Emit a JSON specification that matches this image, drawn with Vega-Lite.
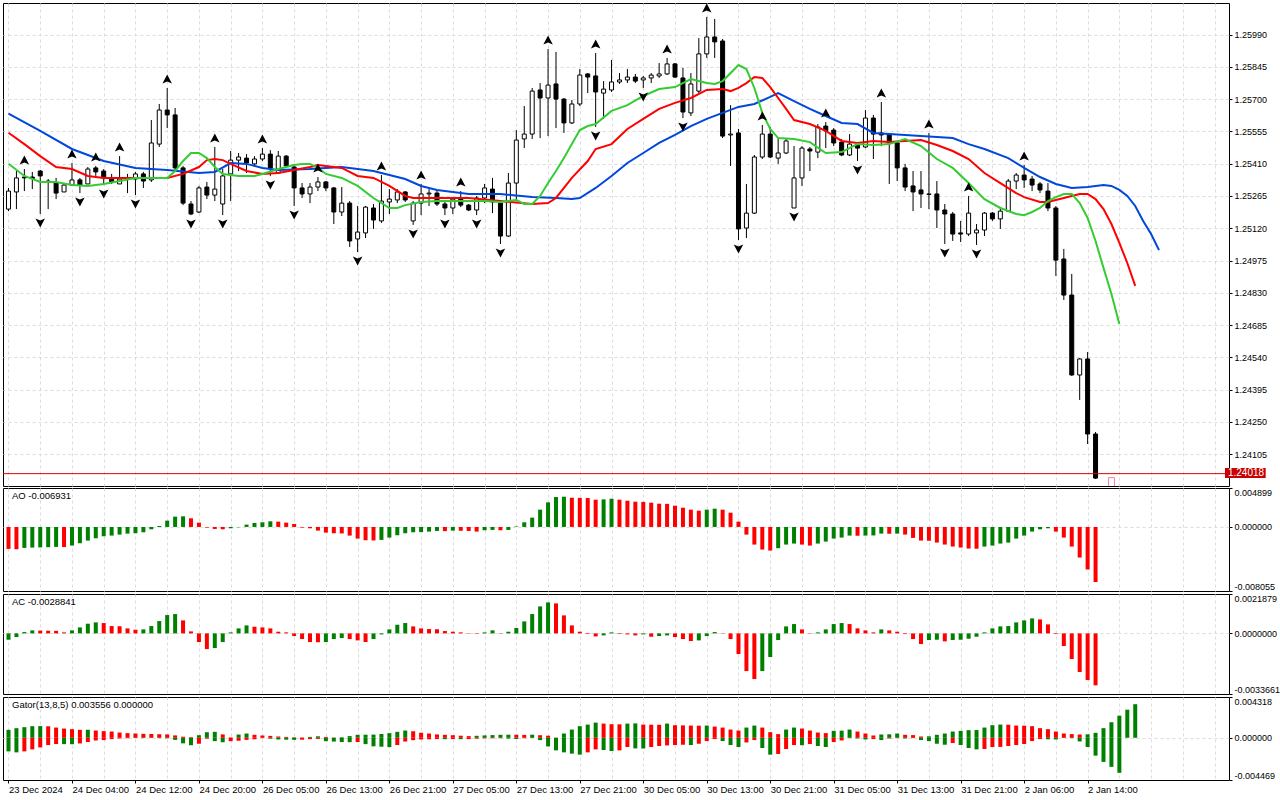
{
  "$schema": "https://vega.github.io/schema/vega-lite/v6.json",
  "background": "white",
  "padding": {"left": 2, "top": 2, "right": 0, "bottom": 0},
  "spacing": 2,
  "bounds": "flush",
  "resolve": {"scale": {"color": "independent"}},
  "config": {
    "locale": {"number": {"decimal": ".", "thousands": ",", "grouping": [3], "currency": ["", ""], "minus": "-"}},
    "view": {"stroke": "#000000", "strokeWidth": 1},
    "axis": {"labelFont": "Liberation Sans", "labelFontSize": 9, "labelColor": "#000000", "tickColor": "#000000", "tickWidth": 1, "gridColor": "#dcdcdc", "gridDash": [3, 3], "gridWidth": 1, "domain": false, "title": null, "labelOverlap": false, "labelSeparation": 0}
  },
  "datasets": {
    "bars": [
      {"i":0,"o":1.25206,"h":1.25301,"l":1.25197,"c":1.25287,"ao":-0.002759,"aoc":"r","ac":-0.000352,"acc":"g"},
      {"i":1,"o":1.25283,"h":1.25377,"l":1.25206,"c":1.25346,"ao":-0.002801,"aoc":"r","ac":-0.000204,"acc":"g"},
      {"i":2,"o":1.25350,"h":1.25386,"l":1.25287,"c":1.25346,"ao":-0.002633,"aoc":"g","ac":0.000074,"acc":"g"},
      {"i":3,"o":1.25350,"h":1.25373,"l":1.25296,"c":1.25343,"ao":-0.002592,"aoc":"g","ac":0.000167,"acc":"g"},
      {"i":4,"o":1.25377,"h":1.25382,"l":1.25184,"c":1.25355,"ao":-0.002571,"aoc":"g","ac":0.000157,"acc":"r"},
      {"i":5,"o":1.25332,"h":1.25341,"l":1.25206,"c":1.25328,"ao":-0.002550,"aoc":"g","ac":0.000148,"acc":"r"},
      {"i":6,"o":1.25323,"h":1.25346,"l":1.25251,"c":1.25278,"ao":-0.002508,"aoc":"g","ac":0.000139,"acc":"r"},
      {"i":7,"o":1.25283,"h":1.25319,"l":1.25283,"c":1.25314,"ao":-0.002529,"aoc":"r","ac":0.000056,"acc":"r"},
      {"i":8,"o":1.25314,"h":1.25413,"l":1.25310,"c":1.25337,"ao":-0.002341,"aoc":"g","ac":0.000167,"acc":"g"},
      {"i":9,"o":1.25337,"h":1.25346,"l":1.25278,"c":1.25314,"ao":-0.002048,"aoc":"g","ac":0.000333,"acc":"g"},
      {"i":10,"o":1.25319,"h":1.25395,"l":1.25319,"c":1.25386,"ao":-0.001714,"aoc":"g","ac":0.000537,"acc":"g"},
      {"i":11,"o":1.25391,"h":1.25400,"l":1.25355,"c":1.25373,"ao":-0.001421,"aoc":"g","ac":0.000611,"acc":"g"},
      {"i":12,"o":1.25377,"h":1.25386,"l":1.25314,"c":1.25346,"ao":-0.001170,"aoc":"g","ac":0.000574,"acc":"r"},
      {"i":13,"o":1.25346,"h":1.25364,"l":1.25319,"c":1.25328,"ao":-0.001087,"aoc":"g","ac":0.000407,"acc":"r"},
      {"i":14,"o":1.25319,"h":1.25444,"l":1.25319,"c":1.25341,"ao":-0.000961,"aoc":"g","ac":0.000398,"acc":"r"},
      {"i":15,"o":1.25341,"h":1.25364,"l":1.25278,"c":1.25346,"ao":-0.000836,"aoc":"g","ac":0.000278,"acc":"r"},
      {"i":16,"o":1.25341,"h":1.25373,"l":1.25269,"c":1.25364,"ao":-0.000794,"aoc":"g","ac":0.000204,"acc":"r"},
      {"i":17,"o":1.25364,"h":1.25373,"l":1.25301,"c":1.25332,"ao":-0.000669,"aoc":"g","ac":0.000222,"acc":"g"},
      {"i":18,"o":1.25337,"h":1.25606,"l":1.25328,"c":1.25503,"ao":-0.000293,"aoc":"g","ac":0.000407,"acc":"g"},
      {"i":19,"o":1.25498,"h":1.25678,"l":1.25485,"c":1.25651,"ao":0.000125,"aoc":"g","ac":0.000685,"acc":"g"},
      {"i":20,"o":1.25651,"h":1.25750,"l":1.25570,"c":1.25629,"ao":0.000794,"aoc":"g","ac":0.001018,"acc":"g"},
      {"i":21,"o":1.25629,"h":1.25660,"l":1.25377,"c":1.25391,"ao":0.001296,"aoc":"g","ac":0.001074,"acc":"g"},
      {"i":22,"o":1.25391,"h":1.25400,"l":1.25224,"c":1.25233,"ao":0.001338,"aoc":"g","ac":0.000722,"acc":"r"},
      {"i":23,"o":1.25229,"h":1.25242,"l":1.25179,"c":1.25184,"ao":0.001087,"aoc":"r","ac":0.000111,"acc":"r"},
      {"i":24,"o":1.25193,"h":1.25310,"l":1.25188,"c":1.25301,"ao":0.000543,"aoc":"r","ac":-0.000481,"acc":"r"},
      {"i":25,"o":1.25305,"h":1.25328,"l":1.25251,"c":1.25269,"ao":-0.000084,"aoc":"r","ac":-0.000870,"acc":"r"},
      {"i":26,"o":1.25269,"h":1.25485,"l":1.25242,"c":1.25296,"ao":-0.000251,"aoc":"r","ac":-0.000814,"acc":"g"},
      {"i":27,"o":1.25229,"h":1.25386,"l":1.25179,"c":1.25355,"ao":-0.000293,"aoc":"r","ac":-0.000481,"acc":"g"},
      {"i":28,"o":1.25364,"h":1.25467,"l":1.25242,"c":1.25426,"ao":-0.000167,"aoc":"g","ac":0.000056,"acc":"g"},
      {"i":29,"o":1.25426,"h":1.25458,"l":1.25377,"c":1.25440,"ao":-0.000042,"aoc":"g","ac":0.000278,"acc":"g"},
      {"i":30,"o":1.25435,"h":1.25453,"l":1.25368,"c":1.25413,"ao":0.000293,"aoc":"g","ac":0.000444,"acc":"g"},
      {"i":31,"o":1.25409,"h":1.25444,"l":1.25395,"c":1.25431,"ao":0.000502,"aoc":"g","ac":0.000370,"acc":"r"},
      {"i":32,"o":1.25431,"h":1.25480,"l":1.25422,"c":1.25453,"ao":0.000585,"aoc":"g","ac":0.000333,"acc":"r"},
      {"i":33,"o":1.25453,"h":1.25471,"l":1.25355,"c":1.25391,"ao":0.000711,"aoc":"g","ac":0.000278,"acc":"r"},
      {"i":34,"o":1.25368,"h":1.25467,"l":1.25364,"c":1.25444,"ao":0.000669,"aoc":"r","ac":0.000093,"acc":"r"},
      {"i":35,"o":1.25444,"h":1.25449,"l":1.25391,"c":1.25400,"ao":0.000543,"aoc":"r","ac":0.000056,"acc":"r"},
      {"i":36,"o":1.25395,"h":1.25409,"l":1.25220,"c":1.25301,"ao":0.000376,"aoc":"r","ac":-0.000148,"acc":"r"},
      {"i":37,"o":1.25301,"h":1.25323,"l":1.25256,"c":1.25274,"ao":-0.000084,"aoc":"r","ac":-0.000315,"acc":"r"},
      {"i":38,"o":1.25274,"h":1.25323,"l":1.25233,"c":1.25305,"ao":-0.000167,"aoc":"r","ac":-0.000481,"acc":"r"},
      {"i":39,"o":1.25305,"h":1.25350,"l":1.25287,"c":1.25328,"ao":-0.000460,"aoc":"r","ac":-0.000491,"acc":"r"},
      {"i":40,"o":1.25328,"h":1.25332,"l":1.25287,"c":1.25301,"ao":-0.000711,"aoc":"r","ac":-0.000481,"acc":"g"},
      {"i":41,"o":1.25301,"h":1.25305,"l":1.25139,"c":1.25193,"ao":-0.000794,"aoc":"r","ac":-0.000315,"acc":"g"},
      {"i":42,"o":1.25193,"h":1.25305,"l":1.25175,"c":1.25233,"ao":-0.000815,"aoc":"r","ac":-0.000259,"acc":"g"},
      {"i":43,"o":1.25233,"h":1.25242,"l":1.25036,"c":1.25063,"ao":-0.001087,"aoc":"r","ac":-0.000315,"acc":"r"},
      {"i":44,"o":1.25072,"h":1.25220,"l":1.25013,"c":1.25103,"ao":-0.001463,"aoc":"r","ac":-0.000389,"acc":"r"},
      {"i":45,"o":1.25099,"h":1.25220,"l":1.25076,"c":1.25215,"ao":-0.001672,"aoc":"r","ac":-0.000481,"acc":"r"},
      {"i":46,"o":1.25211,"h":1.25229,"l":1.25117,"c":1.25157,"ao":-0.001693,"aoc":"r","ac":-0.000315,"acc":"g"},
      {"i":47,"o":1.25153,"h":1.25359,"l":1.25144,"c":1.25242,"ao":-0.001630,"aoc":"g","ac":-0.000056,"acc":"g"},
      {"i":48,"o":1.25238,"h":1.25296,"l":1.25184,"c":1.25251,"ao":-0.001338,"aoc":"g","ac":0.000222,"acc":"g"},
      {"i":49,"o":1.25247,"h":1.25296,"l":1.25233,"c":1.25283,"ao":-0.001045,"aoc":"g","ac":0.000481,"acc":"g"},
      {"i":50,"o":1.25283,"h":1.25287,"l":1.25238,"c":1.25247,"ao":-0.000794,"aoc":"g","ac":0.000574,"acc":"g"},
      {"i":51,"o":1.25153,"h":1.25242,"l":1.25135,"c":1.25233,"ao":-0.000669,"aoc":"g","ac":0.000389,"acc":"r"},
      {"i":52,"o":1.25233,"h":1.25319,"l":1.25179,"c":1.25274,"ao":-0.000648,"aoc":"g","ac":0.000278,"acc":"r"},
      {"i":53,"o":1.25274,"h":1.25296,"l":1.25220,"c":1.25278,"ao":-0.000585,"aoc":"g","ac":0.000241,"acc":"r"},
      {"i":54,"o":1.25278,"h":1.25292,"l":1.25220,"c":1.25229,"ao":-0.000502,"aoc":"g","ac":0.000231,"acc":"r"},
      {"i":55,"o":1.25229,"h":1.25242,"l":1.25179,"c":1.25211,"ao":-0.000523,"aoc":"r","ac":0.000130,"acc":"r"},
      {"i":56,"o":1.25211,"h":1.25260,"l":1.25184,"c":1.25251,"ao":-0.000460,"aoc":"g","ac":0.000093,"acc":"r"},
      {"i":57,"o":1.25256,"h":1.25287,"l":1.25215,"c":1.25224,"ao":-0.000481,"aoc":"r","ac":0.000056,"acc":"r"},
      {"i":58,"o":1.25224,"h":1.25229,"l":1.25197,"c":1.25202,"ao":-0.000502,"aoc":"r","ac":-0.000019,"acc":"r"},
      {"i":59,"o":1.25202,"h":1.25265,"l":1.25179,"c":1.25256,"ao":-0.000585,"aoc":"r","ac":-0.000028,"acc":"r"},
      {"i":60,"o":1.25256,"h":1.25319,"l":1.25233,"c":1.25301,"ao":-0.000418,"aoc":"g","ac":0.000056,"acc":"g"},
      {"i":61,"o":1.25296,"h":1.25346,"l":1.25188,"c":1.25238,"ao":-0.000376,"aoc":"g","ac":0.000167,"acc":"g"},
      {"i":62,"o":1.25233,"h":1.25242,"l":1.25049,"c":1.25085,"ao":-0.000418,"aoc":"r","ac":0.000019,"acc":"r"},
      {"i":63,"o":1.25085,"h":1.25368,"l":1.25081,"c":1.25323,"ao":-0.000376,"aoc":"g","ac":0.000093,"acc":"g"},
      {"i":64,"o":1.25323,"h":1.25561,"l":1.25242,"c":1.25516,"ao":0.000042,"aoc":"g","ac":0.000296,"acc":"g"},
      {"i":65,"o":1.25521,"h":1.25669,"l":1.25480,"c":1.25543,"ao":0.000585,"aoc":"g","ac":0.000666,"acc":"g"},
      {"i":66,"o":1.25543,"h":1.25750,"l":1.25521,"c":1.25736,"ao":0.001170,"aoc":"g","ac":0.001074,"acc":"g"},
      {"i":67,"o":1.25741,"h":1.25772,"l":1.25525,"c":1.25705,"ao":0.002174,"aoc":"g","ac":0.001499,"acc":"g"},
      {"i":68,"o":1.25705,"h":1.25925,"l":1.25534,"c":1.25763,"ao":0.003093,"aoc":"g","ac":0.001721,"acc":"g"},
      {"i":69,"o":1.25768,"h":1.25912,"l":1.25570,"c":1.25700,"ao":0.003762,"aoc":"g","ac":0.001666,"acc":"r"},
      {"i":70,"o":1.25700,"h":1.25705,"l":1.25548,"c":1.25593,"ao":0.003804,"aoc":"g","ac":0.001000,"acc":"r"},
      {"i":71,"o":1.25593,"h":1.25696,"l":1.25588,"c":1.25678,"ao":0.003678,"aoc":"r","ac":0.000444,"acc":"r"},
      {"i":72,"o":1.25678,"h":1.25835,"l":1.25669,"c":1.25808,"ao":0.003658,"aoc":"r","ac":0.000093,"acc":"r"},
      {"i":73,"o":1.25813,"h":1.25817,"l":1.25727,"c":1.25799,"ao":0.003637,"aoc":"r","ac":-0.000037,"acc":"r"},
      {"i":74,"o":1.25804,"h":1.25907,"l":1.25575,"c":1.25732,"ao":0.003428,"aoc":"r","ac":-0.000167,"acc":"r"},
      {"i":75,"o":1.25727,"h":1.25781,"l":1.25611,"c":1.25745,"ao":0.003469,"aoc":"g","ac":-0.000111,"acc":"g"},
      {"i":76,"o":1.25741,"h":1.25876,"l":1.25732,"c":1.25777,"ao":0.003553,"aoc":"g","ac":0.000056,"acc":"g"},
      {"i":77,"o":1.25777,"h":1.25817,"l":1.25768,"c":1.25786,"ao":0.003428,"aoc":"r","ac":-0.000037,"acc":"r"},
      {"i":78,"o":1.25786,"h":1.25835,"l":1.25772,"c":1.25799,"ao":0.003302,"aoc":"r","ac":-0.000056,"acc":"r"},
      {"i":79,"o":1.25799,"h":1.25813,"l":1.25772,"c":1.25781,"ao":0.003177,"aoc":"r","ac":-0.000111,"acc":"r"},
      {"i":80,"o":1.25786,"h":1.25804,"l":1.25750,"c":1.25795,"ao":0.003156,"aoc":"r","ac":-0.000056,"acc":"g"},
      {"i":81,"o":1.25795,"h":1.25817,"l":1.25772,"c":1.25808,"ao":0.003051,"aoc":"r","ac":-0.000185,"acc":"r"},
      {"i":82,"o":1.25804,"h":1.25862,"l":1.25795,"c":1.25813,"ao":0.002926,"aoc":"r","ac":-0.000148,"acc":"g"},
      {"i":83,"o":1.25813,"h":1.25885,"l":1.25808,"c":1.25858,"ao":0.002905,"aoc":"r","ac":-0.000111,"acc":"g"},
      {"i":84,"o":1.25858,"h":1.25862,"l":1.25795,"c":1.25799,"ao":0.002675,"aoc":"r","ac":-0.000204,"acc":"r"},
      {"i":85,"o":1.25795,"h":1.25840,"l":1.25615,"c":1.25642,"ao":0.002424,"aoc":"r","ac":-0.000315,"acc":"r"},
      {"i":86,"o":1.25638,"h":1.25817,"l":1.25624,"c":1.25768,"ao":0.002174,"aoc":"r","ac":-0.000426,"acc":"r"},
      {"i":87,"o":1.25736,"h":1.25974,"l":1.25727,"c":1.25903,"ao":0.002048,"aoc":"r","ac":-0.000389,"acc":"g"},
      {"i":88,"o":1.25903,"h":1.26069,"l":1.25885,"c":1.25979,"ao":0.002174,"aoc":"g","ac":-0.000148,"acc":"g"},
      {"i":89,"o":1.25979,"h":1.26060,"l":1.25885,"c":1.25957,"ao":0.002299,"aoc":"g","ac":0.000074,"acc":"g"},
      {"i":90,"o":1.25961,"h":1.25970,"l":1.25525,"c":1.25534,"ao":0.002174,"aoc":"r","ac":-0.000019,"acc":"r"},
      {"i":91,"o":1.25539,"h":1.25673,"l":1.25400,"c":1.25543,"ao":0.001797,"aoc":"r","ac":-0.000315,"acc":"r"},
      {"i":92,"o":1.25548,"h":1.25566,"l":1.25067,"c":1.25117,"ao":0.000669,"aoc":"r","ac":-0.001148,"acc":"r"},
      {"i":93,"o":1.25121,"h":1.25319,"l":1.25076,"c":1.25188,"ao":-0.000961,"aoc":"r","ac":-0.002092,"acc":"r"},
      {"i":94,"o":1.25188,"h":1.25449,"l":1.25184,"c":1.25440,"ao":-0.002215,"aoc":"r","ac":-0.002536,"acc":"r"},
      {"i":95,"o":1.25440,"h":1.25584,"l":1.25431,"c":1.25543,"ao":-0.002842,"aoc":"r","ac":-0.002092,"acc":"g"},
      {"i":96,"o":1.25543,"h":1.25575,"l":1.25435,"c":1.25440,"ao":-0.002968,"aoc":"r","ac":-0.001314,"acc":"g"},
      {"i":97,"o":1.25435,"h":1.25525,"l":1.25409,"c":1.25458,"ao":-0.002675,"aoc":"g","ac":-0.000370,"acc":"g"},
      {"i":98,"o":1.25458,"h":1.25521,"l":1.25453,"c":1.25512,"ao":-0.002215,"aoc":"g","ac":0.000389,"acc":"g"},
      {"i":99,"o":1.25211,"h":1.25489,"l":1.25211,"c":1.25346,"ao":-0.002090,"aoc":"g","ac":0.000518,"acc":"g"},
      {"i":100,"o":1.25346,"h":1.25489,"l":1.25310,"c":1.25480,"ao":-0.002215,"aoc":"r","ac":0.000222,"acc":"r"},
      {"i":101,"o":1.25476,"h":1.25485,"l":1.25377,"c":1.25467,"ao":-0.002341,"aoc":"r","ac":0.000019,"acc":"r"},
      {"i":102,"o":1.25462,"h":1.25588,"l":1.25435,"c":1.25575,"ao":-0.002090,"aoc":"g","ac":0.000056,"acc":"g"},
      {"i":103,"o":1.25579,"h":1.25597,"l":1.25480,"c":1.25557,"ao":-0.001839,"aoc":"g","ac":0.000222,"acc":"g"},
      {"i":104,"o":1.25561,"h":1.25570,"l":1.25489,"c":1.25503,"ao":-0.001463,"aoc":"g","ac":0.000518,"acc":"g"},
      {"i":105,"o":1.25507,"h":1.25521,"l":1.25444,"c":1.25449,"ao":-0.001338,"aoc":"g","ac":0.000574,"acc":"g"},
      {"i":106,"o":1.25449,"h":1.25543,"l":1.25444,"c":1.25498,"ao":-0.001087,"aoc":"g","ac":0.000518,"acc":"r"},
      {"i":107,"o":1.25494,"h":1.25503,"l":1.25422,"c":1.25480,"ao":-0.001108,"aoc":"r","ac":0.000278,"acc":"r"},
      {"i":108,"o":1.25485,"h":1.25651,"l":1.25480,"c":1.25615,"ao":-0.001087,"aoc":"g","ac":0.000167,"acc":"r"},
      {"i":109,"o":1.25615,"h":1.25629,"l":1.25431,"c":1.25543,"ao":-0.001066,"aoc":"g","ac":0.000056,"acc":"r"},
      {"i":110,"o":1.25548,"h":1.25687,"l":1.25489,"c":1.25539,"ao":-0.000836,"aoc":"g","ac":0.000222,"acc":"g"},
      {"i":111,"o":1.25543,"h":1.25548,"l":1.25319,"c":1.25503,"ao":-0.000857,"aoc":"r","ac":0.000167,"acc":"r"},
      {"i":112,"o":1.25503,"h":1.25512,"l":1.25332,"c":1.25391,"ao":-0.000836,"aoc":"g","ac":0.000093,"acc":"r"},
      {"i":113,"o":1.25391,"h":1.25409,"l":1.25287,"c":1.25305,"ao":-0.000961,"aoc":"r","ac":-0.000037,"acc":"r"},
      {"i":114,"o":1.25310,"h":1.25377,"l":1.25197,"c":1.25283,"ao":-0.001379,"aoc":"r","ac":-0.000315,"acc":"r"},
      {"i":115,"o":1.25292,"h":1.25377,"l":1.25211,"c":1.25274,"ao":-0.001714,"aoc":"r","ac":-0.000592,"acc":"r"},
      {"i":116,"o":1.25274,"h":1.25548,"l":1.25206,"c":1.25272,"ao":-0.001735,"aoc":"r","ac":-0.000370,"acc":"g"},
      {"i":117,"o":1.25274,"h":1.25332,"l":1.25121,"c":1.25202,"ao":-0.001965,"aoc":"r","ac":-0.000352,"acc":"g"},
      {"i":118,"o":1.25202,"h":1.25229,"l":1.25049,"c":1.25184,"ao":-0.002215,"aoc":"r","ac":-0.000444,"acc":"r"},
      {"i":119,"o":1.25184,"h":1.25193,"l":1.25063,"c":1.25094,"ao":-0.002466,"aoc":"r","ac":-0.000370,"acc":"g"},
      {"i":120,"o":1.25099,"h":1.25153,"l":1.25058,"c":1.25094,"ao":-0.002592,"aoc":"r","ac":-0.000352,"acc":"g"},
      {"i":121,"o":1.25094,"h":1.25265,"l":1.25085,"c":1.25188,"ao":-0.002717,"aoc":"r","ac":-0.000296,"acc":"g"},
      {"i":122,"o":1.25099,"h":1.25139,"l":1.25045,"c":1.25112,"ao":-0.002738,"aoc":"r","ac":-0.000185,"acc":"g"},
      {"i":123,"o":1.25112,"h":1.25193,"l":1.25085,"c":1.25188,"ao":-0.002466,"aoc":"g","ac":0.000056,"acc":"g"},
      {"i":124,"o":1.25188,"h":1.25193,"l":1.25153,"c":1.25162,"ao":-0.002341,"aoc":"g","ac":0.000278,"acc":"g"},
      {"i":125,"o":1.25162,"h":1.25215,"l":1.25117,"c":1.25197,"ao":-0.002090,"aoc":"g","ac":0.000389,"acc":"g"},
      {"i":126,"o":1.25197,"h":1.25341,"l":1.25193,"c":1.25332,"ao":-0.001965,"aoc":"g","ac":0.000407,"acc":"g"},
      {"i":127,"o":1.25332,"h":1.25368,"l":1.25296,"c":1.25359,"ao":-0.001463,"aoc":"g","ac":0.000611,"acc":"g"},
      {"i":128,"o":1.25359,"h":1.25404,"l":1.25301,"c":1.25337,"ao":-0.001087,"aoc":"g","ac":0.000722,"acc":"g"},
      {"i":129,"o":1.25341,"h":1.25355,"l":1.25287,"c":1.25314,"ao":-0.000585,"aoc":"g","ac":0.000833,"acc":"g"},
      {"i":130,"o":1.25319,"h":1.25328,"l":1.25278,"c":1.25292,"ao":-0.000293,"aoc":"g","ac":0.000777,"acc":"r"},
      {"i":131,"o":1.25287,"h":1.25323,"l":1.25197,"c":1.25211,"ao":-0.000167,"aoc":"g","ac":0.000500,"acc":"r"},
      {"i":132,"o":1.25211,"h":1.25220,"l":1.24906,"c":1.24977,"ao":-0.000585,"aoc":"r","ac":-0.000037,"acc":"r"},
      {"i":133,"o":1.24982,"h":1.25027,"l":1.24798,"c":1.24820,"ao":-0.001338,"aoc":"r","ac":-0.000703,"acc":"r"},
      {"i":134,"o":1.24820,"h":1.24915,"l":1.24457,"c":1.24461,"ao":-0.002466,"aoc":"r","ac":-0.001425,"acc":"r"},
      {"i":135,"o":1.24461,"h":1.24537,"l":1.24349,"c":1.24533,"ao":-0.003846,"aoc":"r","ac":-0.002147,"acc":"r"},
      {"i":136,"o":1.24533,"h":1.24564,"l":1.24151,"c":1.24196,"ao":-0.005350,"aoc":"r","ac":-0.002591,"acc":"r"},
      {"i":137,"o":1.24196,"h":1.24205,"l":1.23994,"c":1.23998,"ao":-0.006931,"aoc":"r","ac":-0.002884,"acc":"r"}
    ],
    "lines": [
      {"s":"jaw","i":0,"v":1.25635},{"s":"jaw","i":4,"v":1.25557},{"s":"jaw","i":8,"v":1.25476},{"s":"jaw","i":12,"v":1.25422},{"s":"jaw","i":16,"v":1.25391},{"s":"jaw","i":20,"v":1.25382},{"s":"jaw","i":24,"v":1.25368},{"s":"jaw","i":26,"v":1.25373},{"s":"jaw","i":28,"v":1.25413},{"s":"jaw","i":30,"v":1.25409},{"s":"jaw","i":32,"v":1.25391},{"s":"jaw","i":34,"v":1.25382},{"s":"jaw","i":38,"v":1.25386},{"s":"jaw","i":42,"v":1.25395},{"s":"jaw","i":46,"v":1.25377},{"s":"jaw","i":50,"v":1.25341},{"s":"jaw","i":52,"v":1.25310},{"s":"jaw","i":54,"v":1.25292},{"s":"jaw","i":58,"v":1.25274},{"s":"jaw","i":62,"v":1.25274},{"s":"jaw","i":66,"v":1.25260},{"s":"jaw","i":69,"v":1.25256},{"s":"jaw","i":71,"v":1.25251},{"s":"jaw","i":72,"v":1.25256},{"s":"jaw","i":74,"v":1.25301},{"s":"jaw","i":76,"v":1.25355},{"s":"jaw","i":78,"v":1.25413},{"s":"jaw","i":80,"v":1.25458},{"s":"jaw","i":82,"v":1.25503},{"s":"jaw","i":84,"v":1.25539},{"s":"jaw","i":86,"v":1.25579},{"s":"jaw","i":88,"v":1.25611},{"s":"jaw","i":90,"v":1.25638},{"s":"jaw","i":92,"v":1.25665},{"s":"jaw","i":94,"v":1.25678},{"s":"jaw","i":96,"v":1.25710},{"s":"jaw","i":97,"v":1.25727},{"s":"jaw","i":99,"v":1.25691},{"s":"jaw","i":101,"v":1.25656},{"s":"jaw","i":103,"v":1.25624},{"s":"jaw","i":105,"v":1.25593},{"s":"jaw","i":107,"v":1.25588},{"s":"jaw","i":109,"v":1.25548},{"s":"jaw","i":111,"v":1.25543},{"s":"jaw","i":115,"v":1.25534},{"s":"jaw","i":119,"v":1.25525},{"s":"jaw","i":121,"v":1.25498},{"s":"jaw","i":123,"v":1.25476},{"s":"jaw","i":126,"v":1.25435},{"s":"jaw","i":128,"v":1.25391},{"s":"jaw","i":130,"v":1.25350},{"s":"jaw","i":132,"v":1.25319},{"s":"jaw","i":134,"v":1.25301},{"s":"jaw","i":136,"v":1.25305},{"s":"jaw","i":138,"v":1.25314},{"s":"jaw","i":139,"v":1.25310},{"s":"jaw","i":140,"v":1.25292},{"s":"jaw","i":141,"v":1.25265},{"s":"jaw","i":142,"v":1.25220},{"s":"jaw","i":143,"v":1.25153},{"s":"jaw","i":144,"v":1.25094},{"s":"jaw","i":145,"v":1.25022},
      {"s":"teeth","i":0,"v":1.25549},{"s":"teeth","i":2,"v":1.25498},{"s":"teeth","i":4,"v":1.25444},{"s":"teeth","i":6,"v":1.25395},{"s":"teeth","i":8,"v":1.25386},{"s":"teeth","i":10,"v":1.25355},{"s":"teeth","i":12,"v":1.25346},{"s":"teeth","i":16,"v":1.25346},{"s":"teeth","i":20,"v":1.25346},{"s":"teeth","i":22,"v":1.25364},{"s":"teeth","i":24,"v":1.25395},{"s":"teeth","i":25,"v":1.25426},{"s":"teeth","i":26,"v":1.25431},{"s":"teeth","i":27,"v":1.25426},{"s":"teeth","i":28,"v":1.25409},{"s":"teeth","i":30,"v":1.25377},{"s":"teeth","i":32,"v":1.25364},{"s":"teeth","i":34,"v":1.25368},{"s":"teeth","i":36,"v":1.25382},{"s":"teeth","i":38,"v":1.25395},{"s":"teeth","i":39,"v":1.25404},{"s":"teeth","i":42,"v":1.25391},{"s":"teeth","i":44,"v":1.25355},{"s":"teeth","i":46,"v":1.25346},{"s":"teeth","i":48,"v":1.25310},{"s":"teeth","i":50,"v":1.25265},{"s":"teeth","i":51,"v":1.25256},{"s":"teeth","i":54,"v":1.25256},{"s":"teeth","i":58,"v":1.25256},{"s":"teeth","i":62,"v":1.25242},{"s":"teeth","i":66,"v":1.25229},{"s":"teeth","i":68,"v":1.25233},{"s":"teeth","i":69,"v":1.25256},{"s":"teeth","i":71,"v":1.25346},{"s":"teeth","i":73,"v":1.25422},{"s":"teeth","i":74,"v":1.25476},{"s":"teeth","i":76,"v":1.25498},{"s":"teeth","i":78,"v":1.25566},{"s":"teeth","i":80,"v":1.25611},{"s":"teeth","i":82,"v":1.25656},{"s":"teeth","i":84,"v":1.25683},{"s":"teeth","i":86,"v":1.25705},{"s":"teeth","i":88,"v":1.25741},{"s":"teeth","i":90,"v":1.25745},{"s":"teeth","i":91,"v":1.25736},{"s":"teeth","i":92,"v":1.25750},{"s":"teeth","i":93,"v":1.25772},{"s":"teeth","i":94,"v":1.25799},{"s":"teeth","i":95,"v":1.25795},{"s":"teeth","i":96,"v":1.25754},{"s":"teeth","i":97,"v":1.25705},{"s":"teeth","i":98,"v":1.25656},{"s":"teeth","i":99,"v":1.25606},{"s":"teeth","i":101,"v":1.25588},{"s":"teeth","i":103,"v":1.25557},{"s":"teeth","i":105,"v":1.25512},{"s":"teeth","i":107,"v":1.25503},{"s":"teeth","i":109,"v":1.25512},{"s":"teeth","i":111,"v":1.25507},{"s":"teeth","i":113,"v":1.25512},{"s":"teeth","i":115,"v":1.25516},{"s":"teeth","i":117,"v":1.25494},{"s":"teeth","i":119,"v":1.25467},{"s":"teeth","i":121,"v":1.25431},{"s":"teeth","i":123,"v":1.25368},{"s":"teeth","i":125,"v":1.25323},{"s":"teeth","i":127,"v":1.25278},{"s":"teeth","i":128,"v":1.25260},{"s":"teeth","i":130,"v":1.25238},{"s":"teeth","i":131,"v":1.25238},{"s":"teeth","i":133,"v":1.25256},{"s":"teeth","i":135,"v":1.25274},{"s":"teeth","i":136,"v":1.25274},{"s":"teeth","i":137,"v":1.25251},{"s":"teeth","i":138,"v":1.25206},{"s":"teeth","i":139,"v":1.25139},{"s":"teeth","i":140,"v":1.25054},{"s":"teeth","i":141,"v":1.24964},{"s":"teeth","i":142,"v":1.24861},
      {"s":"lips","i":0,"v":1.25410},{"s":"lips","i":2,"v":1.25355},{"s":"lips","i":4,"v":1.25328},{"s":"lips","i":6,"v":1.25328},{"s":"lips","i":8,"v":1.25314},{"s":"lips","i":10,"v":1.25310},{"s":"lips","i":12,"v":1.25319},{"s":"lips","i":14,"v":1.25332},{"s":"lips","i":16,"v":1.25346},{"s":"lips","i":20,"v":1.25346},{"s":"lips","i":21,"v":1.25377},{"s":"lips","i":22,"v":1.25422},{"s":"lips","i":23,"v":1.25458},{"s":"lips","i":24,"v":1.25458},{"s":"lips","i":25,"v":1.25435},{"s":"lips","i":26,"v":1.25395},{"s":"lips","i":27,"v":1.25364},{"s":"lips","i":29,"v":1.25355},{"s":"lips","i":31,"v":1.25355},{"s":"lips","i":32,"v":1.25364},{"s":"lips","i":34,"v":1.25386},{"s":"lips","i":36,"v":1.25404},{"s":"lips","i":37,"v":1.25409},{"s":"lips","i":38,"v":1.25409},{"s":"lips","i":39,"v":1.25391},{"s":"lips","i":40,"v":1.25364},{"s":"lips","i":42,"v":1.25346},{"s":"lips","i":44,"v":1.25310},{"s":"lips","i":46,"v":1.25256},{"s":"lips","i":48,"v":1.25211},{"s":"lips","i":49,"v":1.25211},{"s":"lips","i":50,"v":1.25224},{"s":"lips","i":52,"v":1.25238},{"s":"lips","i":54,"v":1.25242},{"s":"lips","i":58,"v":1.25242},{"s":"lips","i":60,"v":1.25242},{"s":"lips","i":62,"v":1.25238},{"s":"lips","i":64,"v":1.25247},{"s":"lips","i":65,"v":1.25229},{"s":"lips","i":66,"v":1.25229},{"s":"lips","i":67,"v":1.25265},{"s":"lips","i":68,"v":1.25323},{"s":"lips","i":69,"v":1.25377},{"s":"lips","i":70,"v":1.25435},{"s":"lips","i":71,"v":1.25498},{"s":"lips","i":72,"v":1.25561},{"s":"lips","i":73,"v":1.25579},{"s":"lips","i":74,"v":1.25588},{"s":"lips","i":76,"v":1.25647},{"s":"lips","i":78,"v":1.25673},{"s":"lips","i":80,"v":1.25714},{"s":"lips","i":82,"v":1.25745},{"s":"lips","i":84,"v":1.25754},{"s":"lips","i":86,"v":1.25790},{"s":"lips","i":88,"v":1.25772},{"s":"lips","i":89,"v":1.25768},{"s":"lips","i":90,"v":1.25781},{"s":"lips","i":92,"v":1.25853},{"s":"lips","i":93,"v":1.25835},{"s":"lips","i":94,"v":1.25750},{"s":"lips","i":95,"v":1.25638},{"s":"lips","i":96,"v":1.25566},{"s":"lips","i":97,"v":1.25525},{"s":"lips","i":99,"v":1.25521},{"s":"lips","i":101,"v":1.25507},{"s":"lips","i":103,"v":1.25458},{"s":"lips","i":105,"v":1.25462},{"s":"lips","i":107,"v":1.25498},{"s":"lips","i":109,"v":1.25494},{"s":"lips","i":111,"v":1.25498},{"s":"lips","i":113,"v":1.25521},{"s":"lips","i":115,"v":1.25489},{"s":"lips","i":117,"v":1.25431},{"s":"lips","i":119,"v":1.25391},{"s":"lips","i":121,"v":1.25323},{"s":"lips","i":123,"v":1.25251},{"s":"lips","i":125,"v":1.25211},{"s":"lips","i":127,"v":1.25184},{"s":"lips","i":128,"v":1.25179},{"s":"lips","i":129,"v":1.25193},{"s":"lips","i":130,"v":1.25211},{"s":"lips","i":131,"v":1.25242},{"s":"lips","i":132,"v":1.25260},{"s":"lips","i":133,"v":1.25274},{"s":"lips","i":134,"v":1.25274},{"s":"lips","i":135,"v":1.25233},{"s":"lips","i":136,"v":1.25166},{"s":"lips","i":137,"v":1.25063},{"s":"lips","i":138,"v":1.24942},{"s":"lips","i":139,"v":1.24825},{"s":"lips","i":140,"v":1.24690}
    ],
    "fractals": [
      {"i":2,"p":1.25386,"t":"up"},{"i":8,"p":1.25413,"t":"up"},{"i":11,"p":1.25400,"t":"up"},{"i":14,"p":1.25444,"t":"up"},{"i":20,"p":1.25750,"t":"up"},{"i":26,"p":1.25485,"t":"up"},{"i":32,"p":1.25480,"t":"up"},{"i":39,"p":1.25350,"t":"up"},{"i":47,"p":1.25359,"t":"up"},{"i":52,"p":1.25319,"t":"up"},{"i":57,"p":1.25287,"t":"up"},{"i":68,"p":1.25925,"t":"up"},{"i":74,"p":1.25907,"t":"up"},{"i":83,"p":1.25885,"t":"up"},{"i":88,"p":1.26069,"t":"up"},{"i":95,"p":1.25584,"t":"up"},{"i":103,"p":1.25597,"t":"up"},{"i":110,"p":1.25687,"t":"up"},{"i":116,"p":1.25548,"t":"up"},{"i":121,"p":1.25265,"t":"up"},{"i":128,"p":1.25404,"t":"up"},
      {"i":4,"p":1.25184,"t":"down"},{"i":9,"p":1.25278,"t":"down"},{"i":12,"p":1.25314,"t":"down"},{"i":16,"p":1.25269,"t":"down"},{"i":23,"p":1.25179,"t":"down"},{"i":27,"p":1.25179,"t":"down"},{"i":33,"p":1.25355,"t":"down"},{"i":36,"p":1.25220,"t":"down"},{"i":44,"p":1.25013,"t":"down"},{"i":51,"p":1.25135,"t":"down"},{"i":55,"p":1.25179,"t":"down"},{"i":59,"p":1.25179,"t":"down"},{"i":62,"p":1.25049,"t":"down"},{"i":74,"p":1.25575,"t":"down"},{"i":80,"p":1.25750,"t":"down"},{"i":85,"p":1.25615,"t":"down"},{"i":92,"p":1.25067,"t":"down"},{"i":99,"p":1.25211,"t":"down"},{"i":107,"p":1.25422,"t":"down"},{"i":118,"p":1.25049,"t":"down"},{"i":122,"p":1.25045,"t":"down"}
    ],
    "gator": [
      {"i":0,"gu":0.000840,"guc":"g","gl":-0.001439,"glc":"g"},{"i":1,"gu":0.001019,"guc":"g","gl":-0.001544,"glc":"g"},{"i":2,"gu":0.001124,"guc":"g","gl":-0.001439,"glc":"r"},{"i":3,"gu":0.001229,"guc":"g","gl":-0.001229,"glc":"r"},{"i":4,"gu":0.001239,"guc":"g","gl":-0.001019,"glc":"r"},{"i":5,"gu":0.001218,"guc":"r","gl":-0.000767,"glc":"r"},{"i":6,"gu":0.001082,"guc":"r","gl":-0.000662,"glc":"r"},{"i":7,"gu":0.000977,"guc":"r","gl":-0.000672,"glc":"g"},{"i":8,"gu":0.000914,"guc":"r","gl":-0.000683,"glc":"g"},{"i":9,"gu":0.000840,"guc":"r","gl":-0.000599,"glc":"r"},
      {"i":10,"gu":0.000851,"guc":"g","gl":-0.000452,"glc":"r"},{"i":11,"gu":0.000767,"guc":"r","gl":-0.000284,"glc":"r"},{"i":12,"gu":0.000704,"guc":"r","gl":-0.000242,"glc":"r"},{"i":13,"gu":0.000662,"guc":"r","gl":-0.000137,"glc":"r"},{"i":14,"gu":0.000557,"guc":"r","gl":-0.000074,"glc":"r"},{"i":15,"gu":0.000494,"guc":"r","gl":-0.000042,"glc":"r"},{"i":16,"gu":0.000452,"guc":"r","gl":-0.000021,"glc":"r"},{"i":17,"gu":0.000420,"guc":"r","gl":-0.000032,"glc":"g"},{"i":18,"gu":0.000399,"guc":"r","gl":-0.000021,"glc":"r"},{"i":19,"gu":0.000378,"guc":"r","gl":-0.000032,"glc":"g"},
      {"i":20,"gu":0.000357,"guc":"r","gl":-0.000053,"glc":"g"},{"i":21,"gu":0.000252,"guc":"r","gl":-0.000221,"glc":"g"},{"i":22,"gu":0.000116,"guc":"r","gl":-0.000588,"glc":"g"},{"i":23,"gu":0.000063,"guc":"r","gl":-0.000788,"glc":"g"},{"i":24,"gu":0.000273,"guc":"g","gl":-0.000630,"glc":"r"},{"i":25,"gu":0.000588,"guc":"g","gl":-0.000095,"glc":"r"},{"i":26,"gu":0.000630,"guc":"g","gl":-0.000357,"glc":"g"},{"i":27,"gu":0.000357,"guc":"r","gl":-0.000473,"glc":"g"},{"i":28,"gu":0.000042,"guc":"r","gl":-0.000357,"glc":"r"},{"i":29,"gu":0.000347,"guc":"g","gl":-0.000315,"glc":"r"},
      {"i":30,"gu":0.000452,"guc":"g","gl":-0.000221,"glc":"r"},{"i":31,"gu":0.000315,"guc":"r","gl":-0.000158,"glc":"r"},{"i":32,"gu":0.000242,"guc":"r","gl":-0.000032,"glc":"r"},{"i":33,"gu":0.000200,"guc":"r","gl":-0.000095,"glc":"g"},{"i":34,"gu":0.000137,"guc":"r","gl":-0.000179,"glc":"g"},{"i":35,"gu":0.000095,"guc":"r","gl":-0.000200,"glc":"g"},{"i":36,"gu":0.000053,"guc":"r","gl":-0.000221,"glc":"g"},{"i":37,"gu":0.000032,"guc":"r","gl":-0.000200,"glc":"r"},{"i":38,"gu":0.000095,"guc":"g","gl":-0.000137,"glc":"r"},{"i":39,"gu":0.000158,"guc":"g","gl":-0.000116,"glc":"r"},
      {"i":40,"gu":0.000095,"guc":"r","gl":-0.000357,"glc":"g"},{"i":41,"gu":0.000032,"guc":"r","gl":-0.000399,"glc":"g"},{"i":42,"gu":0.000053,"guc":"g","gl":-0.000452,"glc":"g"},{"i":43,"gu":0.000179,"guc":"g","gl":-0.000462,"glc":"g"},{"i":44,"gu":0.000315,"guc":"g","gl":-0.000452,"glc":"r"},{"i":45,"gu":0.000326,"guc":"g","gl":-0.000672,"glc":"g"},{"i":46,"gu":0.000336,"guc":"g","gl":-0.000903,"glc":"g"},{"i":47,"gu":0.000399,"guc":"g","gl":-0.000945,"glc":"g"},{"i":48,"gu":0.000494,"guc":"g","gl":-0.000987,"glc":"g"},{"i":49,"gu":0.000630,"guc":"g","gl":-0.000767,"glc":"r"},
      {"i":50,"gu":0.000767,"guc":"g","gl":-0.000399,"glc":"r"},{"i":51,"gu":0.000693,"guc":"r","gl":-0.000252,"glc":"r"},{"i":52,"gu":0.000536,"guc":"r","gl":-0.000179,"glc":"r"},{"i":53,"gu":0.000452,"guc":"r","gl":-0.000158,"glc":"r"},{"i":54,"gu":0.000357,"guc":"r","gl":-0.000137,"glc":"r"},{"i":55,"gu":0.000315,"guc":"r","gl":-0.000147,"glc":"g"},{"i":56,"gu":0.000273,"guc":"r","gl":-0.000137,"glc":"r"},{"i":57,"gu":0.000221,"guc":"r","gl":-0.000147,"glc":"g"},{"i":58,"gu":0.000179,"guc":"r","gl":-0.000137,"glc":"r"},{"i":59,"gu":0.000210,"guc":"g","gl":-0.000095,"glc":"r"},
      {"i":60,"gu":0.000252,"guc":"g","gl":-0.000063,"glc":"r"},{"i":61,"gu":0.000284,"guc":"g","gl":-0.000053,"glc":"r"},{"i":62,"gu":0.000315,"guc":"g","gl":-0.000042,"glc":"r"},{"i":63,"gu":0.000326,"guc":"g","gl":-0.000084,"glc":"g"},{"i":64,"gu":0.000315,"guc":"r","gl":-0.000116,"glc":"g"},{"i":65,"gu":0.000305,"guc":"r","gl":-0.000042,"glc":"r"},{"i":66,"gu":0.000326,"guc":"g","gl":-0.000021,"glc":"r"},{"i":67,"gu":0.000273,"guc":"r","gl":-0.000252,"glc":"g"},{"i":68,"gu":0.000221,"guc":"r","gl":-0.000914,"glc":"g"},{"i":69,"gu":0.000021,"guc":"r","gl":-0.001334,"glc":"g"},
      {"i":70,"gu":0.000452,"guc":"g","gl":-0.001544,"glc":"g"},{"i":71,"gu":0.000872,"guc":"g","gl":-0.001680,"glc":"g"},{"i":72,"gu":0.001229,"guc":"g","gl":-0.001785,"glc":"g"},{"i":73,"gu":0.001397,"guc":"g","gl":-0.001544,"glc":"r"},{"i":74,"gu":0.001607,"guc":"g","gl":-0.001229,"glc":"r"},{"i":75,"gu":0.001502,"guc":"r","gl":-0.001292,"glc":"g"},{"i":76,"gu":0.001439,"guc":"r","gl":-0.001397,"glc":"g"},{"i":77,"gu":0.001428,"guc":"r","gl":-0.001334,"glc":"r"},{"i":78,"gu":0.001502,"guc":"g","gl":-0.000977,"glc":"r"},{"i":79,"gu":0.001523,"guc":"g","gl":-0.001124,"glc":"g"},
      {"i":80,"gu":0.001397,"guc":"r","gl":-0.001134,"glc":"g"},{"i":81,"gu":0.001386,"guc":"r","gl":-0.000977,"glc":"r"},{"i":82,"gu":0.001376,"guc":"r","gl":-0.000872,"glc":"r"},{"i":83,"gu":0.001502,"guc":"g","gl":-0.000809,"glc":"r"},{"i":84,"gu":0.001334,"guc":"r","gl":-0.000767,"glc":"r"},{"i":85,"gu":0.001313,"guc":"r","gl":-0.000735,"glc":"r"},{"i":86,"gu":0.001292,"guc":"r","gl":-0.000767,"glc":"g"},{"i":87,"gu":0.001281,"guc":"r","gl":-0.000630,"glc":"r"},{"i":88,"gu":0.001292,"guc":"g","gl":-0.000347,"glc":"r"},{"i":89,"gu":0.001187,"guc":"r","gl":-0.000137,"glc":"r"},
      {"i":90,"gu":0.001082,"guc":"r","gl":-0.000347,"glc":"g"},{"i":91,"gu":0.000872,"guc":"r","gl":-0.000767,"glc":"g"},{"i":92,"gu":0.000767,"guc":"r","gl":-0.000977,"glc":"g"},{"i":93,"gu":0.001082,"guc":"g","gl":-0.000494,"glc":"r"},{"i":94,"gu":0.001292,"guc":"g","gl":-0.000242,"glc":"r"},{"i":95,"gu":0.001082,"guc":"r","gl":-0.001082,"glc":"g"},{"i":96,"gu":0.000599,"guc":"r","gl":-0.001785,"glc":"g"},{"i":97,"gu":0.000389,"guc":"r","gl":-0.001712,"glc":"r"},{"i":98,"gu":0.000872,"guc":"g","gl":-0.001187,"glc":"r"},{"i":99,"gu":0.001082,"guc":"g","gl":-0.000767,"glc":"r"},
      {"i":100,"gu":0.000977,"guc":"r","gl":-0.000788,"glc":"g"},{"i":101,"gu":0.000767,"guc":"r","gl":-0.000662,"glc":"r"},{"i":102,"gu":0.000557,"guc":"r","gl":-0.000872,"glc":"g"},{"i":103,"gu":0.000494,"guc":"r","gl":-0.000977,"glc":"g"},{"i":104,"gu":0.000735,"guc":"g","gl":-0.000452,"glc":"r"},{"i":105,"gu":0.000756,"guc":"g","gl":-0.000284,"glc":"r"},{"i":106,"gu":0.000872,"guc":"g","gl":-0.000032,"glc":"r"},{"i":107,"gu":0.000662,"guc":"r","gl":-0.000074,"glc":"g"},{"i":108,"gu":0.000452,"guc":"r","gl":-0.000179,"glc":"g"},{"i":109,"gu":0.000242,"guc":"r","gl":-0.000137,"glc":"r"},
      {"i":110,"gu":0.000347,"guc":"g","gl":-0.000242,"glc":"g"},{"i":111,"gu":0.000368,"guc":"g","gl":-0.000074,"glc":"r"},{"i":112,"gu":0.000452,"guc":"g","gl":-0.000032,"glc":"r"},{"i":113,"gu":0.000315,"guc":"r","gl":-0.000074,"glc":"g"},{"i":114,"gu":0.000284,"guc":"r","gl":-0.000032,"glc":"r"},{"i":115,"gu":0.000137,"guc":"r","gl":-0.000242,"glc":"g"},{"i":116,"gu":0.000158,"guc":"g","gl":-0.000347,"glc":"g"},{"i":117,"gu":0.000315,"guc":"g","gl":-0.000630,"glc":"g"},{"i":118,"gu":0.000452,"guc":"g","gl":-0.000735,"glc":"g"},{"i":119,"gu":0.000662,"guc":"g","gl":-0.000557,"glc":"r"},
      {"i":120,"gu":0.000735,"guc":"g","gl":-0.000767,"glc":"g"},{"i":121,"gu":0.000809,"guc":"g","gl":-0.001082,"glc":"g"},{"i":122,"gu":0.000819,"guc":"g","gl":-0.001229,"glc":"g"},{"i":123,"gu":0.001082,"guc":"g","gl":-0.001187,"glc":"r"},{"i":124,"gu":0.001334,"guc":"g","gl":-0.000977,"glc":"r"},{"i":125,"gu":0.001397,"guc":"g","gl":-0.000966,"glc":"r"},{"i":126,"gu":0.001386,"guc":"r","gl":-0.000872,"glc":"r"},{"i":127,"gu":0.001292,"guc":"r","gl":-0.000767,"glc":"r"},{"i":128,"gu":0.001281,"guc":"r","gl":-0.000662,"glc":"r"},{"i":129,"gu":0.001229,"guc":"r","gl":-0.000347,"glc":"r"},
      {"i":130,"gu":0.001019,"guc":"r","gl":-0.000137,"glc":"r"},{"i":131,"gu":0.000914,"guc":"r","gl":-0.000158,"glc":"g"},{"i":132,"gu":0.000662,"guc":"r","gl":-0.000179,"glc":"g"},{"i":133,"gu":0.000452,"guc":"r","gl":-0.000021,"glc":"r"},{"i":134,"gu":0.000389,"guc":"r","gl":-0.000032,"glc":"g"},{"i":135,"gu":0.000347,"guc":"r","gl":-0.000389,"glc":"g"},{"i":136,"gu":0.000368,"guc":"g","gl":-0.000977,"glc":"g"},{"i":137,"gu":0.000525,"guc":"g","gl":-0.001890,"glc":"g"},{"i":138,"gu":0.001019,"guc":"g","gl":-0.002552,"glc":"g"},{"i":139,"gu":0.001649,"guc":"g","gl":-0.003077,"glc":"g"},
      {"i":140,"gu":0.002342,"guc":"g","gl":-0.003707,"glc":"g"},{"i":141,"gu":0.002972,"guc":"g"},{"i":142,"gu":0.003556,"guc":"g"}
    ]
  },
  "vconcat": [
    {
      "width": 1226,
      "height": 483,
      "layer": [
        {
          "data": {"name": "bars"},
          "mark": {"type": "rule", "color": "#000000", "strokeWidth": 1, "clip": true},
          "encoding": {
            "x": {"field": "i", "type": "quantitative", "scale": {"domain": [-0.0625, 153.1875], "nice": false, "zero": false}, "axis": {"orient": "bottom", "values": [0,4,8,12,16,20,24,28,32,36,40,44,48,52,56,60,64,68,72,76,80,84,88,92,96,100,104,108,112,116,120,124,128,132,136,140,144,148,152], "tickCount": 60, "labels": false, "ticks": false, "grid": true}},
            "y": {"field": "l", "type": "quantitative", "scale": {"domain": [1.239625, 1.261316], "nice": false, "zero": false}, "axis": {"orient": "right", "values": [1.24105,1.2425,1.24395,1.2454,1.24685,1.2483,1.24975,1.2512,1.25265,1.2541,1.25555,1.257,1.25845,1.2599], "tickCount": 30, "format": ".5f", "tickSize": 3, "labelPadding": 2, "grid": true, "labelOverlap": false}},
            "y2": {"field": "h"}
          }
        },
        {
          "data": {"name": "bars"},
          "mark": {"type": "bar", "size": 4, "stroke": "#000000", "strokeWidth": 1, "clip": true},
          "encoding": {
            "x": {"field": "i", "type": "quantitative"},
            "y": {"field": "o", "type": "quantitative"},
            "y2": {"field": "c"},
            "fill": {"condition": {"test": "datum.c < datum.o", "value": "#000000"}, "value": "#ffffff"}
          }
        },
        {
          "data": {"name": "lines"},
          "mark": {"type": "line", "strokeWidth": 2, "clip": true},
          "encoding": {
            "x": {"field": "i", "type": "quantitative"},
            "y": {"field": "v", "type": "quantitative"},
            "color": {"field": "s", "type": "nominal", "scale": {"domain": ["jaw", "teeth", "lips"], "range": ["#0047dc", "#ff0000", "#33cc33"]}, "legend": null}
          }
        },
        {
          "data": {"name": "fractals"},
          "transform": [{"filter": "datum.t === 'up'"}],
          "mark": {"type": "point", "shape": "M0,-0.9L0.95,0.9L0,0.5L-0.95,0.9Z", "filled": true, "color": "#000000", "opacity": 1, "size": 100, "yOffset": -9, "clip": true},
          "encoding": {
            "x": {"field": "i", "type": "quantitative"},
            "y": {"field": "p", "type": "quantitative"}
          }
        },
        {
          "data": {"name": "fractals"},
          "transform": [{"filter": "datum.t === 'down'"}],
          "mark": {"type": "point", "shape": "M0,0.9L0.95,-0.9L0,-0.5L-0.95,-0.9Z", "filled": true, "color": "#000000", "opacity": 1, "size": 100, "yOffset": 9, "clip": true},
          "encoding": {
            "x": {"field": "i", "type": "quantitative"},
            "y": {"field": "p", "type": "quantitative"}
          }
        },
        {
          "data": {"values": [{}]},
          "mark": {"type": "rule", "color": "#e00000", "strokeWidth": 1},
          "encoding": {"y": {"datum": 1.24018}}
        },
        {
          "data": {"values": [{}]},
          "mark": {"type": "bar", "size": 6, "fill": "#ffffff", "stroke": "#f0809a", "strokeWidth": 1, "clip": true},
          "encoding": {"x": {"datum": 139}, "y": {"datum": 1.24}, "y2": {"datum": 1.2396}}
        },
        {
          "data": {"values": [{}]},
          "mark": {"type": "rect", "color": "#c80000"},
          "encoding": {"x": {"datum": 153.31}, "x2": {"datum": 158.44}, "y": {"datum": 1.24043}, "y2": {"datum": 1.23998}}
        },
        {
          "data": {"values": [{}]},
          "mark": {"type": "text", "color": "#ffffff", "align": "left", "baseline": "middle", "font": "Liberation Sans", "fontSize": 10, "dx": 3},
          "encoding": {"x": {"datum": 153.31}, "y": {"datum": 1.24021}, "text": {"value": "1.24018"}}
        }
      ]
    },
    {
      "spacing": 3,
      "bounds": "flush",
      "vconcat": [
        {
          "width": 1226,
          "height": 103,
          "layer": [
            {
              "data": {"name": "bars"},
              "mark": {"type": "bar", "size": 4, "clip": true},
              "encoding": {
                "x": {"field": "i", "type": "quantitative", "scale": {"domain": [-0.0625, 153.1875], "nice": false, "zero": false}, "axis": {"orient": "bottom", "values": [0,4,8,12,16,20,24,28,32,36,40,44,48,52,56,60,64,68,72,76,80,84,88,92,96,100,104,108,112,116,120,124,128,132,136,140,144,148,152], "tickCount": 60, "labels": false, "ticks": false, "grid": true}},
                "y": {"field": "ao", "type": "quantitative", "scale": {"domain": [-0.008055, 0.004899], "nice": false, "zero": false}, "axis": {"orient": "right", "values": [-0.008055, 0, 0.004899], "tickCount": 10, "format": ".6f", "tickSize": 3, "labelPadding": 2, "labelFlush": true, "labelFlushOffset": 0, "grid": true, "gridOpacity": {"condition": {"test": "datum.value === 0", "value": 1}, "value": 0}}},
                "y2": {"datum": 0},
                "color": {"field": "aoc", "type": "nominal", "scale": {"domain": ["g", "r"], "range": ["#008000", "#ff0000"]}, "legend": null}
              }
            },
            {
              "data": {"values": [{}]},
              "mark": {"type": "text", "align": "left", "baseline": "top", "font": "Liberation Sans", "fontSize": 9.5, "color": "#000000", "dx": 4, "dy": 3},
              "encoding": {"x": {"datum": -0.0625}, "y": {"datum": 0.004899}, "text": {"value": "AO -0.006931"}}
            }
          ]
        },
        {
          "width": 1226,
          "height": 100,
          "layer": [
            {
              "data": {"name": "bars"},
              "mark": {"type": "bar", "size": 4, "clip": true},
              "encoding": {
                "x": {"field": "i", "type": "quantitative", "scale": {"domain": [-0.0625, 153.1875], "nice": false, "zero": false}, "axis": {"orient": "bottom", "values": [0,4,8,12,16,20,24,28,32,36,40,44,48,52,56,60,64,68,72,76,80,84,88,92,96,100,104,108,112,116,120,124,128,132,136,140,144,148,152], "tickCount": 60, "labels": false, "ticks": false, "grid": true}},
                "y": {"field": "ac", "type": "quantitative", "scale": {"domain": [-0.0033661, 0.0021879], "nice": false, "zero": false}, "axis": {"orient": "right", "values": [-0.0033661, 0, 0.0021879], "tickCount": 10, "format": ".7f", "tickSize": 3, "labelPadding": 2, "labelFlush": true, "labelFlushOffset": 0, "grid": true, "gridOpacity": {"condition": {"test": "datum.value === 0", "value": 1}, "value": 0}}},
                "y2": {"datum": 0},
                "color": {"field": "acc", "type": "nominal", "scale": {"domain": ["g", "r"], "range": ["#008000", "#ff0000"]}, "legend": null}
              }
            },
            {
              "data": {"values": [{}]},
              "mark": {"type": "text", "align": "left", "baseline": "top", "font": "Liberation Sans", "fontSize": 9.5, "color": "#000000", "dx": 4, "dy": 3},
              "encoding": {"x": {"datum": -0.0625}, "y": {"datum": 0.0021879}, "text": {"value": "AC -0.0028841"}}
            }
          ]
        },
        {
          "width": 1226,
          "height": 83,
          "layer": [
            {
              "data": {"name": "gator"},
              "mark": {"type": "bar", "size": 4, "clip": true},
              "encoding": {
                "x": {"field": "i", "type": "quantitative", "scale": {"domain": [-0.0625, 153.1875], "nice": false, "zero": false}, "axis": {"orient": "bottom", "values": [0,4,8,12,16,20,24,28,32,36,40,44,48,52,56,60,64,68,72,76,80,84,88,92,96,100,104,108,112,116,120,124,128,132,136,140,144,148,152], "tickCount": 60, "grid": true, "ticks": true, "tickSize": 3, "tickOpacity": {"condition": {"test": "datum.value % 8 === 0 && datum.value <= 136", "value": 1}, "value": 0}, "labels": true, "labelFontSize": 9.5, "labelAlign": "left", "labelBaseline": "top", "labelPadding": 1, "labelFlush": false, "labelOverlap": false, "labelBound": false, "labelExpr": "(datum.value % 8 === 0 && datum.value <= 136) ? ['23 Dec 2024','24 Dec 04:00','24 Dec 12:00','24 Dec 20:00','26 Dec 05:00','26 Dec 13:00','26 Dec 21:00','27 Dec 05:00','27 Dec 13:00','27 Dec 21:00','30 Dec 05:00','30 Dec 13:00','30 Dec 21:00','31 Dec 05:00','31 Dec 13:00','31 Dec 21:00','2 Jan 06:00','2 Jan 14:00'][datum.value / 8] : ''"}},
                "y": {"field": "gu", "type": "quantitative", "scale": {"domain": [-0.004469, 0.004318], "nice": false, "zero": false}, "axis": {"orient": "right", "values": [-0.004469, 0, 0.004318], "tickCount": 10, "format": ".6f", "tickSize": 3, "labelPadding": 2, "labelFlush": true, "labelFlushOffset": 0, "grid": true, "gridOpacity": {"condition": {"test": "datum.value === 0", "value": 1}, "value": 0}}},
                "y2": {"datum": 0},
                "color": {"field": "guc", "type": "nominal", "scale": {"domain": ["g", "r"], "range": ["#008000", "#ff0000"]}, "legend": null}
              }
            },
            {
              "data": {"name": "gator"},
              "transform": [{"filter": "isValid(datum.gl)"}],
              "mark": {"type": "bar", "size": 4, "clip": true},
              "encoding": {
                "x": {"field": "i", "type": "quantitative"},
                "y": {"field": "gl", "type": "quantitative"},
                "y2": {"datum": 0},
                "color": {"field": "glc", "type": "nominal"}
              }
            },
            {
              "data": {"values": [{}]},
              "mark": {"type": "text", "align": "left", "baseline": "top", "font": "Liberation Sans", "fontSize": 9.5, "color": "#000000", "dx": 4, "dy": 3},
              "encoding": {"x": {"datum": -0.0625}, "y": {"datum": 0.004318}, "text": {"value": "Gator(13,8,5) 0.003556 0.000000"}}
            }
          ]
        }
      ]
    }
  ]
}
